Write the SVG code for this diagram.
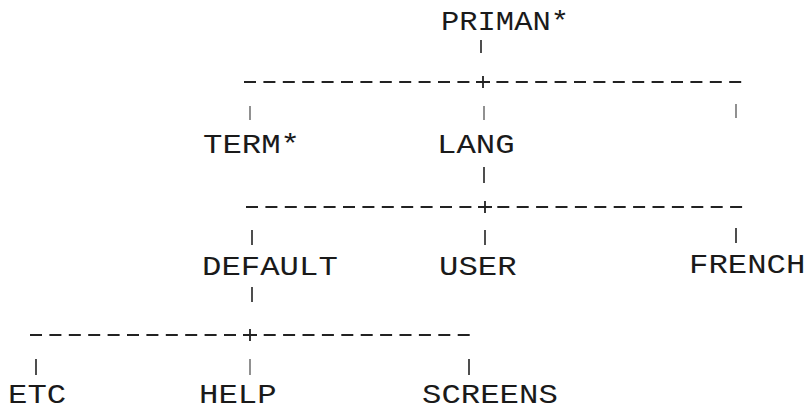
<svg xmlns="http://www.w3.org/2000/svg" width="807" height="411" viewBox="0 0 807 411">
<style>
  .lbl { font-family: "Liberation Mono", "DejaVu Sans Mono", monospace; font-size: 28px; fill: #1a1a1a; }
  .dash { stroke: #222; stroke-width: 1.8; fill: none; stroke-dasharray: 12 7.4; }
  .bar { stroke: #222; stroke-width: 1.6; fill: none; }
  .faint { stroke: #555; stroke-width: 1.3; fill: none; }
  .plus { stroke: #222; stroke-width: 1.8; fill: none; }
</style>
<rect width="807" height="411" fill="#ffffff"/>

<g id="connectors">
  <!-- PRIMAN* to children -->
  <line class="bar" x1="481" y1="40" x2="481" y2="53"/>
  <line class="dash" x1="244" y1="82" x2="470" y2="82"/>
  <path class="plus" d="M476 82 H490 M483 76 V88"/>
  <line class="dash" x1="496.4" y1="82" x2="743" y2="82"/>
  <line class="faint" x1="250" y1="106" x2="250" y2="120"/>
  <line class="faint" x1="484" y1="106" x2="484" y2="120"/>
  <line class="faint" x1="736" y1="104" x2="736" y2="118"/>

  <!-- LANG to children -->
  <line class="bar" x1="484" y1="167" x2="484" y2="183"/>
  <line class="dash" x1="246" y1="207" x2="472" y2="207"/>
  <path class="plus" d="M478 207 H492 M485 201 V213"/>
  <line class="dash" x1="497.3" y1="207" x2="743" y2="207"/>
  <line class="bar" x1="252" y1="230" x2="252" y2="245"/>
  <line class="bar" x1="485" y1="230" x2="485" y2="245"/>
  <line class="bar" x1="736" y1="228" x2="736" y2="243"/>

  <!-- DEFAULT to children -->
  <line class="bar" x1="252" y1="287" x2="252" y2="302"/>
  <line class="dash" x1="30" y1="335" x2="237" y2="335"/>
  <path class="plus" d="M243 335 H257 M250 329 V341"/>
  <line class="dash" x1="263.7" y1="335" x2="473" y2="335"/>
  <line class="bar" x1="36" y1="359" x2="36" y2="375"/>
  <line class="faint" x1="250" y1="359" x2="250" y2="375"/>
  <line class="bar" x1="469" y1="359" x2="469" y2="375"/>
</g>

<g id="node-priman"><text class="lbl" x="441" y="30" textLength="128" lengthAdjust="spacingAndGlyphs">PRIMAN*</text></g>
<g id="node-term"><text class="lbl" x="203" y="153" textLength="97" lengthAdjust="spacingAndGlyphs">TERM*</text></g>
<g id="node-lang"><text class="lbl" x="437" y="153" textLength="77.6" lengthAdjust="spacingAndGlyphs">LANG</text></g>
<g id="node-default"><text class="lbl" x="202" y="275" textLength="135.8" lengthAdjust="spacingAndGlyphs">DEFAULT</text></g>
<g id="node-user"><text class="lbl" x="439" y="275" textLength="77.6" lengthAdjust="spacingAndGlyphs">USER</text></g>
<g id="node-french"><text class="lbl" x="689" y="273" textLength="116.4" lengthAdjust="spacingAndGlyphs">FRENCH</text></g>
<g id="node-etc"><text class="lbl" x="8" y="403" textLength="58.2" lengthAdjust="spacingAndGlyphs">ETC</text></g>
<g id="node-help"><text class="lbl" x="199" y="403" textLength="77.6" lengthAdjust="spacingAndGlyphs">HELP</text></g>
<g id="node-screens"><text class="lbl" x="422" y="403" textLength="135.8" lengthAdjust="spacingAndGlyphs">SCREENS</text></g>
</svg>
